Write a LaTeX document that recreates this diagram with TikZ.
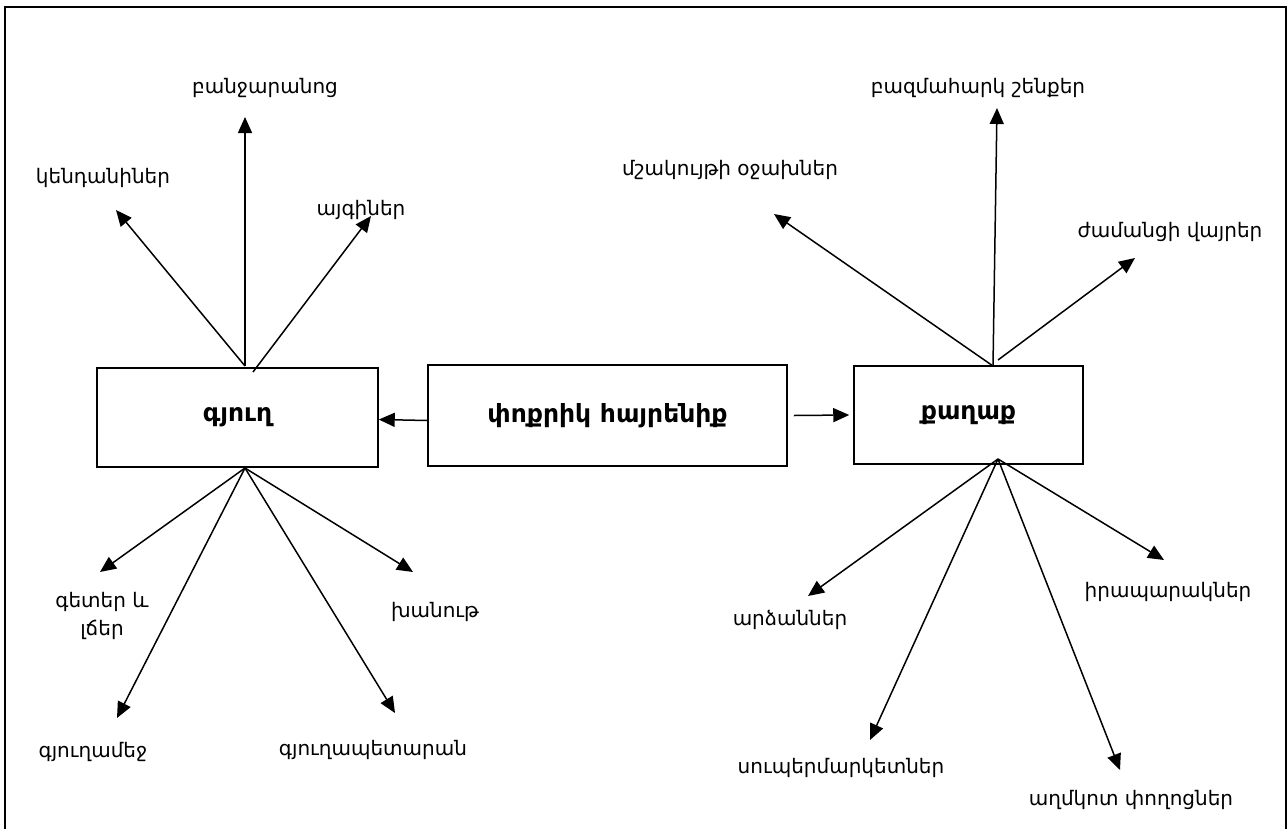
\documentclass[tikz,border=0pt]{standalone}
\usepackage{fontspec}
\setmainfont{DejaVu Sans}
\usetikzlibrary{arrows.meta}

\begin{document}
\begin{tikzpicture}[x=1pt, y=-1pt,
    box/.style={draw, line width=1.5pt, inner sep=0pt},
    word/.style={font=\fontsize{20}{28}\selectfont, align=center, inner sep=0pt},
    head/.style={font=\fontsize{25}{28}\selectfont\bfseries},
    arr/.style={line width=1.5pt, -{Triangle[length=16pt,width=14pt]}}]
    \useasboundingbox (0,0) rectangle (1288,828);
    \draw[line width=2.2pt] (5,850) -- (5,7) -- (1286,7) -- (1286,850);

    % the three boxes
    \node[box, minimum width=281pt, minimum height=99pt] (gyugh) at (237.5,417.5) {};
    \node[head] at (gyugh.center) {գյուղ};
    \node[box, minimum width=359pt, minimum height=101pt] (hayrenik) at (607.5,415.5) {};
    \node[head] at (hayrenik.center) {փոքրիկ հայրենիք};
    \node[box, minimum width=229pt, minimum height=98pt] (kaghak) at (968.5,415) {};
    \node[head] at (kaghak.center) {քաղաք};

    \draw[arr] ([yshift=-5pt]hayrenik.west) -- ([yshift=-2pt]gyugh.east);
    \draw[arr] ([xshift=6pt]hayrenik.east) -- ([xshift=-4pt]kaghak.west);

    % village
    \coordinate (gtop) at (245,366);
    \coordinate (gtop2) at (253,372);
    \coordinate (gbot) at (245,468);
    \node[word] (banjaranots) at (265,88) {բանջարանոց};
    \node[word] (kendaniner) at (103,178) {կենդանիներ};
    \node[word] (ayginer) at (361,210) {այգիներ};
    \node[word] (getker) at (102,616) {գետեր և\\լճեր};
    \node[word] (khanut) at (435,612) {խանութ};
    \node[word] (gyughamej) at (93,752) {գյուղամեջ};
    \node[word] (gyughapetaran) at (373,750) {գյուղապետարան};
    \coordinate (t1) at (245,117);
    \coordinate (t2) at (116,210);
    \coordinate (t3) at (371,216);
    \coordinate (t4) at (100,572);
    \coordinate (t5) at (117,718);
    \coordinate (t6) at (395,713);
    \coordinate (t7) at (413,572);
    \draw[arr] (gtop) -- (t1);
    \draw[arr] (gtop) -- (t2);
    \draw[arr] (gtop2) -- (t3);
    \draw[arr] (gbot) -- (t4);
    \draw[arr] (gbot) -- (t5);
    \draw[arr] (gbot) -- (t6);
    \draw[arr] (gbot) -- (t7);

    % town
    \coordinate (ktop) at (993,366);
    \coordinate (ktop2) at (998,360);
    \coordinate (kbot) at (998,459);
    \node[word] (mshakuyt) at (730,170) {մշակույթի օջախներ};
    \node[word] (bazmahark) at (978,88) {բազմահարկ շենքեր};
    \node[word] (zhamanc) at (1170,232) {ժամանցի վայրեր};
    \node[word] (ardzanner) at (790,620) {արձաններ};
    \node[word] (hraparakner) at (1168,592) {իրապարակներ};
    \node[word] (supermarket) at (841,768) {սուպերմարկետներ};
    \node[word] (aghmkot) at (1131,800) {աղմկոտ փողոցներ};
    \coordinate (s1) at (774,214);
    \coordinate (s2) at (997,108);
    \coordinate (s3) at (1135,258);
    \coordinate (s4) at (808,596);
    \coordinate (s5) at (870,740);
    \coordinate (s6) at (1120,770);
    \coordinate (s7) at (1164,560);
    \draw[arr] (ktop) -- (s1);
    \draw[arr] (ktop) -- (s2);
    \draw[arr] (ktop2) -- (s3);
    \draw[arr] (kbot) -- (s4);
    \draw[arr] (kbot) -- (s5);
    \draw[arr] (kbot) -- (s6);
    \draw[arr] (kbot) -- (s7);
\end{tikzpicture}
\end{document}
